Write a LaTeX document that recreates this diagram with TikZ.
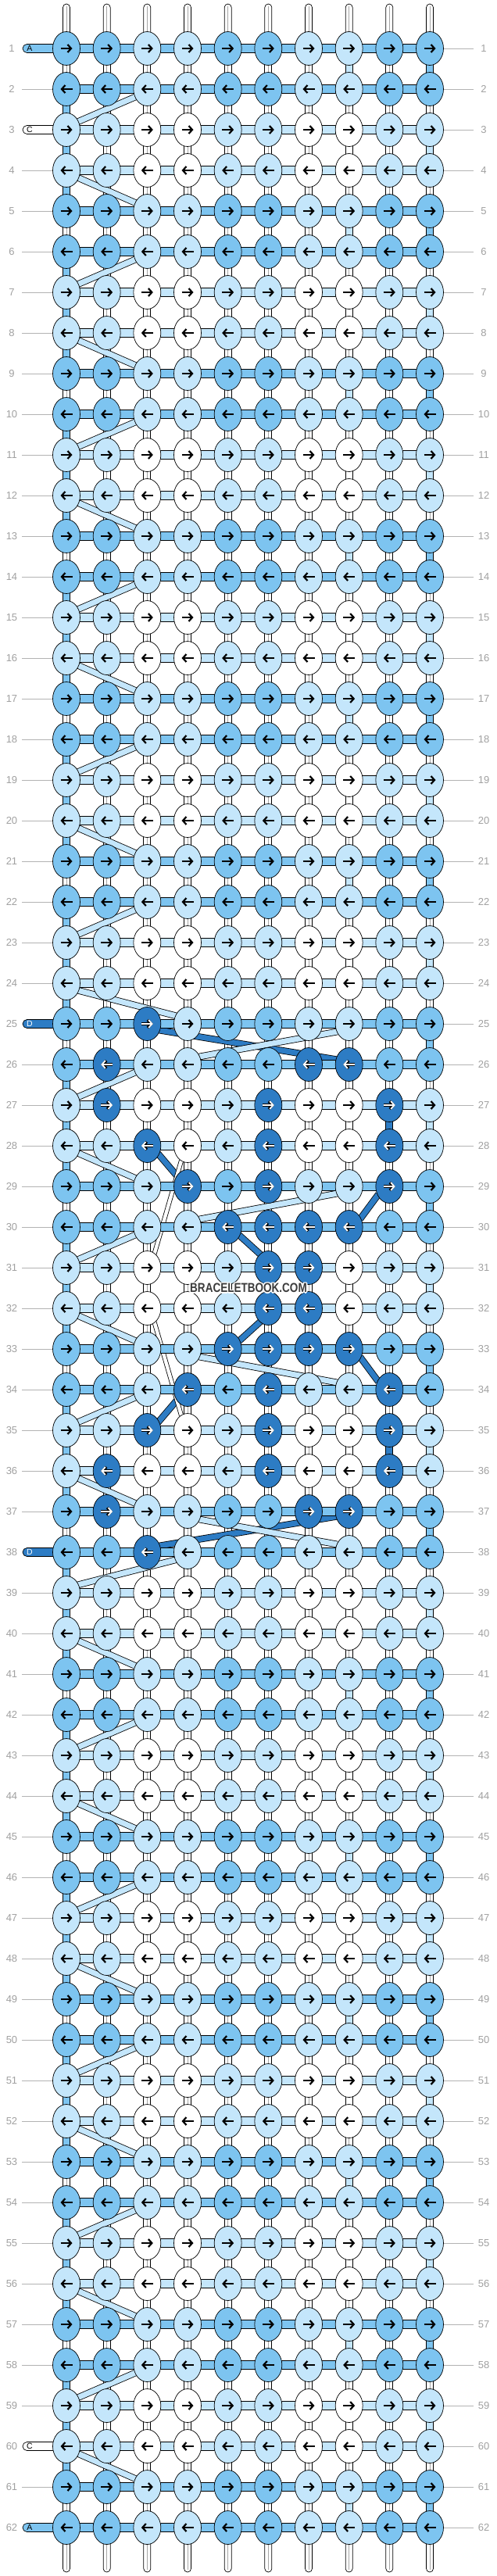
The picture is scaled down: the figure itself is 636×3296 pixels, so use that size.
\documentclass[tikz,border=0pt]{standalone}
\usepackage{fontspec}
\setmainfont{Liberation Sans}
\usepackage{graphicx}
\usetikzlibrary{shapes.geometric,arrows.meta}
\definecolor{knotmid}{HTML}{7DC4F0}
\definecolor{knotlight}{HTML}{C4E6FB}
\definecolor{knotdark}{HTML}{2D7CC4}
\definecolor{labelgray}{HTML}{A0A0A0}
\definecolor{markgray}{HTML}{3C3C3C}
\pgfdeclarelayer{back}
\pgfsetlayers{back,main}
\tikzset{>=stealth,
  knotnode/.style={ellipse, draw, line width=0.7pt, minimum width=35pt, minimum height=43pt, inner sep=0pt},
  knotarrow/.style={line width=2.2pt, -{Straight Barb[length=4.5pt,width=10pt]}},
  rowbar/.style={draw, line width=0.7pt},
  gaplink/.style={draw, line width=0.7pt},
  warpline/.style={draw=gray!70, line width=0.6pt},
  carry/.style={line width=7pt, preaction={draw=black, line width=8.6pt}},
  thincarry/.style={draw=white, line width=4.4pt, preaction={draw=black, line width=6pt}},
  rowlabel/.style={text=labelgray, font=\fontsize{13}{13}\selectfont, minimum width=26pt, inner sep=0pt},
  guide/.style={draw=labelgray!80, line width=0.7pt},
  leadtag/.style={font=\fontsize{10.5}{10.5}\selectfont, inner sep=0pt},
  wmark/.style={font=\bfseries\fontsize{16.5}{16.5}\selectfont, inner sep=0pt}
}

\begin{document}
\begin{tikzpicture}[x=1pt,y=-1pt]
    \useasboundingbox (0,0) rectangle (636,3296);
    % rows with a strand end on the left, and the dark knots
    \foreach \rr in {1,3,25,38,60,62}{\expandafter\gdef\csname lead\rr\endcsname{}}
    \foreach \rr/\cc in {25/3,26/2,26/7,26/8,27/2,27/6,27/9,28/3,28/6,28/9,29/4,29/6,29/9,
        30/5,30/6,30/7,30/8,31/6,31/7,32/6,32/7,33/5,33/6,33/7,33/8,34/4,34/6,34/9,
        35/3,35/6,35/9,36/2,36/6,36/9,37/2,37/7,37/8,38/3}
        {\expandafter\gdef\csname dark\rr-\cc\endcsname{}}
    % knots
    \foreach \rr in {1,...,62}{
        \pgfmathtruncatemacro\ypos{62+52*(\rr-1)}
        \pgfmathtruncatemacro\midrow{mod(\rr-1,4)<2}
        \ifodd\rr \def\ax{-7.5}\def\bx{7.5}\else\def\ax{7.5}\def\bx{-7.5}\fi
        \foreach \cc in {1,...,10}{
            \pgfmathsetmacro\xpos{85+51.667*(\cc-1)}
            \pgfmathtruncatemacro\strong{mod(\cc-1,4)<2}
            \ifnum\midrow=1
                \ifnum\strong=1 \def\kcol{knotmid}\else\def\kcol{knotlight}\fi
            \else
                \ifnum\strong=1 \def\kcol{knotlight}\else\def\kcol{white}\fi
            \fi
            \ifcsname dark\rr-\cc\endcsname
                \node[knotnode, fill=knotdark] (k\rr-\cc) at (\xpos,\ypos) {};
                \draw[knotarrow, line width=3.6pt] ([shift={(\ax,0)}]k\rr-\cc.center) -- ([shift={(\bx,0)}]k\rr-\cc.center);
                \draw[knotarrow, white, line width=1.8pt] ([shift={(\ax,0)}]k\rr-\cc.center) -- ([shift={(\bx,0)}]k\rr-\cc.center);
            \else
                \node[knotnode, fill=\kcol] (k\rr-\cc) at (\xpos,\ypos) {};
                \draw[knotarrow] ([shift={(\ax,0)}]k\rr-\cc.center) -- ([shift={(\bx,0)}]k\rr-\cc.center);
            \fi
        }
    }
    \begin{pgfonlayer}{back}
        % warp ends
        \foreach \cc in {1,...,10}{
            \draw[gaplink, fill=white, rounded corners=4.5pt] ([shift={(-4.5,-57)}]k1-\cc.center) rectangle ([shift={(4.5,0)}]k1-\cc.center);
            \draw[warpline] ([shift={(0,-54)}]k1-\cc.center) -- (k1-\cc.north);
            \draw[gaplink, fill=white, rounded corners=4.5pt] ([shift={(-4.5,0)}]k62-\cc.center) rectangle ([shift={(4.5,57)}]k62-\cc.center);
            \draw[warpline] (k62-\cc.south) -- ([shift={(0,54)}]k62-\cc.center);
        }
        % links between rows
        \foreach \gg in {1,...,61}{
            \pgfmathtruncatemacro\hh{\gg+1}
            \pgfmathtruncatemacro\ph{mod(\gg-1,4)}
            \foreach \cc in {1,...,10}{
                \def\vkind{double}
                \ifnum\cc=1 \ifnum\ph>0 \def\vkind{knotmid}\fi\fi
                \ifnum\cc=10 \ifnum\ph=0 \def\vkind{knotmid}\fi \ifnum\ph=2 \def\vkind{knotlight}\fi\fi
                \ifnum\cc=8
                    \ifnum\ph=2 \def\vkind{white}\fi
                    \ifnum\ph=0 \ifnum\gg<25 \def\vkind{knotlight}\fi \ifnum\gg>37 \def\vkind{knotlight}\fi\fi
                \fi
                \ifnum\cc=9 \ifnum\gg=27 \def\vkind{knotdark}\fi \ifnum\gg=35 \def\vkind{knotdark}\fi\fi
                \def\tmp{double}
                \ifx\vkind\tmp
                    \draw[gaplink, fill=white] ([shift={(-4.5,0)}]k\gg-\cc.center) rectangle ([shift={(4.5,0)}]k\hh-\cc.center);
                    \draw[warpline] (k\gg-\cc.south) -- (k\hh-\cc.north);
                \else
                    \draw[gaplink, fill=\vkind] ([shift={(-4.5,0)}]k\gg-\cc.center) rectangle ([shift={(4.5,0)}]k\hh-\cc.center);
                \fi
            }
        }
        % carried strands at the left edge
        \foreach \gg in {2,6,...,58}{
            \pgfmathtruncatemacro\hh{\gg+1}
            \ifnum\gg=38 \def\tc{4}\else\def\tc{3}\fi
            \draw[carry, knotlight] ([shift={(14,-10)}]k\hh-1.center) -- ([shift={(-14,9.5)}]k\gg-\tc.center);
        }
        \foreach \gg in {4,8,...,60}{
            \pgfmathtruncatemacro\hh{\gg+1}
            \ifnum\gg=24 \def\tc{4}\else\def\tc{3}\fi
            \draw[carry, knotlight] ([shift={(14,9)}]k\gg-1.center) -- ([shift={(-14,-10)}]k\hh-\tc.center);
        }
        % strands of the motif
        \draw[carry, knotdark] ([shift={(15,8)}]k25-3.center) -- ([shift={(-14,-6)}]k26-8.center);
        \draw[carry, knotdark] ([shift={(13,9)}]k28-3.center) -- ([shift={(-14,-14)}]k29-4.center);
        \draw[carry, knotdark] ([shift={(-14,10)}]k29-9.center) -- ([shift={(14,-10)}]k30-8.center);
        \draw[carry, knotdark] ([shift={(14,10)}]k30-5.center) -- ([shift={(-9,-16)}]k31-6.center);
        \draw[carry, knotdark] ([shift={(14,-10)}]k33-5.center) -- ([shift={(-9,16)}]k32-6.center);
        \draw[carry, knotdark] ([shift={(-14,-10)}]k34-9.center) -- ([shift={(14,10)}]k33-8.center);
        \draw[carry, knotdark] ([shift={(13,-9)}]k35-3.center) -- ([shift={(-14,14)}]k34-4.center);
        \draw[carry, knotdark] ([shift={(15,-8)}]k38-3.center) -- ([shift={(-14,6)}]k37-8.center);
        \draw[carry, knotlight] ([shift={(15,-10)}]k26-4.center) -- ([shift={(-15,10)}]k25-8.center);
        \draw[carry, knotlight] ([shift={(15,-10)}]k30-4.center) -- ([shift={(-15,9)}]k29-8.center);
        \draw[carry, knotlight] ([shift={(15,10)}]k33-4.center) -- ([shift={(-15,-9)}]k34-8.center);
        \draw[carry, knotlight] ([shift={(15,10)}]k37-4.center) -- ([shift={(-15,-10)}]k38-8.center);
        \draw[thincarry] ([shift={(-8,19)}]k28-4.center) -- ([shift={(9,-17)}]k31-3.center);
        \draw[thincarry] ([shift={(-8,-19)}]k35-4.center) -- ([shift={(9,17)}]k32-3.center);
        % strands along the rows
        \foreach \rr in {1,...,62}{
            \pgfmathtruncatemacro\midrow{mod(\rr-1,4)<2}
            \ifnum\midrow=1 \def\bcol{knotmid}\else\def\bcol{knotlight}\fi
            \foreach \cc [count=\dd from 2] in {1,...,9}{
                \draw[rowbar, fill=\bcol] ([shift={(0,-5.5)}]k\rr-\cc.center) rectangle ([shift={(0,5.5)}]k\rr-\dd.center);
            }
        }
        % strand ends on the left
        \foreach \rr/\lcol/\tcol/\ltr in {1/knotmid/black/A,3/white/black/C,25/knotdark/white/D,
            38/knotdark/white/D,60/white/black/C,62/knotmid/black/A}{
            \draw[rowbar, fill=\lcol, rounded corners=5.5pt] ([shift={(-56,-5.5)}]k\rr-1.center) rectangle ([shift={(0,5.5)}]k\rr-1.center);
            \node[leadtag, text=\tcol] (tag\rr) at ([shift={(-47,0)}]k\rr-1.center) {\ltr};
        }
    \end{pgfonlayer}
    % row numbers
    \foreach \rr in {1,...,62}{
        \node[rowlabel] (ll\rr) at ([shift={(-70,0)}]k\rr-1.center) {\rr};
        \node[rowlabel] (rl\rr) at ([shift={(69,0)}]k\rr-10.center) {\rr};
        \ifcsname lead\rr\endcsname\else \draw[guide] (ll\rr.east) -- (k\rr-1.west);\fi
        \draw[guide] (k\rr-10.east) -- (rl\rr.west);
    }
    % watermark
    \foreach \dx/\dy [count=\i] in {1.5/0,-1.5/0,0/1.5,0/-1.5,1.2/1.2,1.2/-1.2,-1.2/1.2,-1.2/-1.2}
        \node[wmark, text=white] (halo\i) at (318+\dx,1648+\dy) {\scalebox{0.82}[1]{BRACELETBOOK.COM}};
    \node[wmark, text=markgray] (mark) at (318,1648) {\scalebox{0.82}[1]{BRACELETBOOK.COM}};
\end{tikzpicture}
\end{document}
